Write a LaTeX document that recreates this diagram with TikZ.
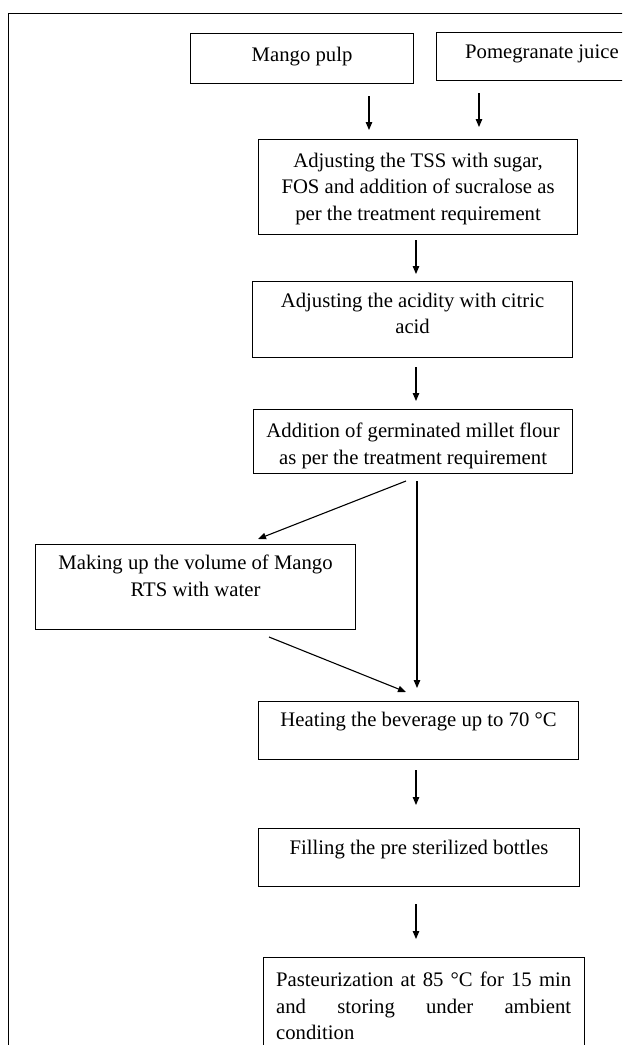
\documentclass[tikz,border=0pt]{standalone}
\usepackage{fontspec}
\setmainfont{Liberation Serif}
\usetikzlibrary{arrows.meta,calc}
\begin{document}
\begin{tikzpicture}[x=1pt,y=-1pt,
  box/.style={draw, line width=1.1pt, inner sep=0pt, anchor=north west},
  txt/.style={inner sep=0pt, align=center, anchor=north, font=\fontsize{20.7}{26.3}\selectfont},
  arr/.style={line width=1.1pt, -{Triangle[length=8pt,width=6.5pt]}}]
\useasboundingbox (0,0) rectangle (622,1045);
\clip (0,0) rectangle (622,1045);
% outer frame
\draw[line width=1pt] (660,13) -- (8.5,13) -- (8.5,1080);
% boxes
\node[box, minimum width=223pt, minimum height=50pt] (mango) at (190,33) {};
\node[box, minimum width=210pt, minimum height=48pt] (pom) at (436,32) {};
\node[box, minimum width=319pt, minimum height=95pt] (tss) at (258,139) {};
\node[box, minimum width=320pt, minimum height=76pt] (acid) at (252,281) {};
\node[box, minimum width=319pt, minimum height=64pt] (add) at (253,409) {};
\node[box, minimum width=320pt, minimum height=85pt] (make) at (35,544) {};
\node[box, minimum width=320pt, minimum height=58pt] (heat) at (258,701) {};
\node[box, minimum width=321pt, minimum height=58pt] (fill) at (258,828) {};
\node[box, minimum width=321pt, minimum height=110pt] (past) at (263,957) {};
% texts
\node[txt] (mangoT) at ($(mango.north)+(0,14)$) {Mango pulp};
\node[txt, anchor=north west] (pomT) at ($(pom.north west)+(29,13)$) {Pomegranate juice};
\node[txt] (tssT) at ($(tss.north)+(0,14)$) {Adjusting the TSS with sugar,\\FOS and addition of sucralose as\\per the treatment requirement};
\node[txt] (acidT) at ($(acid.north)+(0,12)$) {Adjusting the acidity with citric\\acid};
\node[txt] (addT) at ($(add.north)+(0,14)$) {Addition of germinated millet flour\\as per the treatment requirement};
\node[txt] (makeT) at ($(make.north)+(0,11)$) {Making up the volume of Mango\\RTS with water};
\node[txt] (heatT) at ($(heat.north)+(0,11)$) {Heating the beverage up to 70 °C};
\node[txt] (fillT) at ($(fill.north)+(0,12)$) {Filling the pre sterilized bottles};
\node[txt, align=left, anchor=north west] (pastT) at ($(past.north west)+(13,15)$)
  {\makebox[295pt][s]{Pasteurization at 85 °C for 15 min}\\\makebox[295pt][s]{and storing under ambient}\\condition};
% connector end points
\coordinate (a1s) at (369,96);  \coordinate (a1e) at (369,130);
\coordinate (a2s) at (479,93);  \coordinate (a2e) at (479,127);
\coordinate (a3s) at (416,240); \coordinate (a3e) at (416,274);
\coordinate (a4s) at (416,367); \coordinate (a4e) at (416,401);
\coordinate (a5s) at (406,481); \coordinate (a5e) at (258,539);
\coordinate (a6s) at (417,481); \coordinate (a6e) at (417,688);
\coordinate (a7s) at (269,637); \coordinate (a7e) at (406,692);
\coordinate (a8s) at (416,770); \coordinate (a8e) at (416,805);
\coordinate (a9s) at (416,904); \coordinate (a9e) at (416,939);
\draw[arr] (a1s) -- (a1e);
\draw[arr] (a2s) -- (a2e);
\draw[arr] (a3s) -- (a3e);
\draw[arr] (a4s) -- (a4e);
\draw[arr] (a5s) -- (a5e);
\draw[arr] (a6s) -- (a6e);
\draw[arr] (a7s) -- (a7e);
\draw[arr] (a8s) -- (a8e);
\draw[arr] (a9s) -- (a9e);
\end{tikzpicture}
\end{document}
